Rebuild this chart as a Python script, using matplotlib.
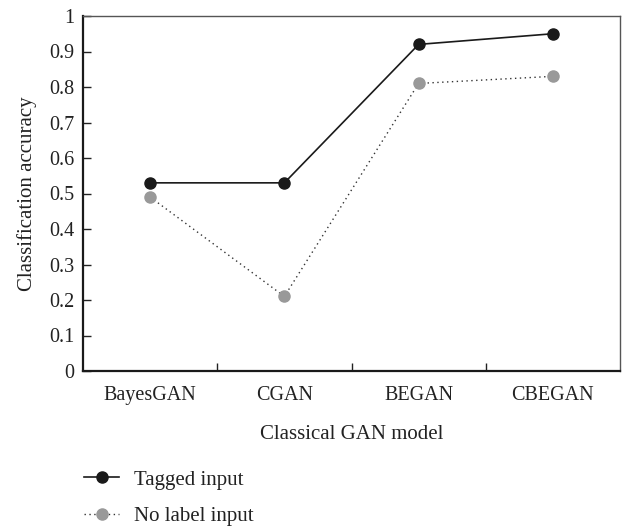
import matplotlib
matplotlib.use("Agg")
import matplotlib.pyplot as plt
from matplotlib.lines import Line2D

plt.rcParams['font.family'] = ['Liberation Serif', 'DejaVu Serif']

categories = ["BayesGAN", "CGAN", "BEGAN", "CBEGAN"]
tagged = [0.53, 0.53, 0.92, 0.95]
no_label = [0.49, 0.21, 0.81, 0.83]
yticks = [0, 0.1, 0.2, 0.3, 0.4, 0.5, 0.6, 0.7, 0.8, 0.9, 1]
ytick_labels = ["0", "0.1", "0.2", "0.3", "0.4", "0.5", "0.6", "0.7", "0.8", "0.9", "1"]

fig = plt.figure(figsize=(6.22, 5.28), dpi=100)
ax = fig.add_axes([83/622, 1-371/528, (620-83)/622, (371-16)/528])

x = list(range(len(categories)))
ax.plot(x, no_label, linestyle=(0, (1, 2.5)), color='#333333', lw=1.0,
        marker='o', markersize=8, markerfacecolor='#999999', markeredgecolor='#999999', zorder=2)
ax.plot(x, tagged, linestyle='-', color='#1a1a1a', lw=1.2,
        marker='o', markersize=8, markerfacecolor='#1a1a1a', markeredgecolor='#1a1a1a', zorder=3)

ax.set_xlim(-0.5, 3.5)
ax.set_ylim(0, 1)
ax.set_yticks(yticks)
ax.set_yticklabels(ytick_labels)
ax.set_xticks(x)
ax.set_xticklabels(categories)
ax.set_xticks([0.5, 1.5, 2.5], minor=True)
ax.tick_params(axis='x', which='major', length=0, pad=11, labelsize=14.5, colors='#222222')
ax.tick_params(axis='x', which='minor', length=6, direction='in', width=1.0, color='#222222')
ax.tick_params(axis='y', which='major', length=6, direction='in', width=1.0, pad=6, labelsize=14.5, colors='#222222')
for s in ['left', 'bottom']:
    ax.spines[s].set_linewidth(1.6)
    ax.spines[s].set_color('#1a1a1a')
for s in ['top', 'right']:
    ax.spines[s].set_linewidth(1.0)
    ax.spines[s].set_color('#555555')

ax.set_xlabel("Classical GAN model", fontsize=15, color='#222222', labelpad=14)
ax.set_ylabel("Classification accuracy", fontsize=15, color='#222222', labelpad=9)

handles = [
    Line2D([], [], linestyle='-', color='#1a1a1a', lw=1.2, marker='o', markersize=8,
           markerfacecolor='#1a1a1a', markeredgecolor='#1a1a1a'),
    Line2D([], [], linestyle=(0, (1, 2.5)), color='#333333', lw=1.0, marker='o', markersize=8,
           markerfacecolor='#999999', markeredgecolor='#999999'),
]
fig.legend(handles, ["Tagged input", "No label input"], loc='upper left',
           bbox_to_anchor=(84/622, 1-470/528), frameon=False, fontsize=15,
           borderpad=0, borderaxespad=0,
           handlelength=1.7, labelspacing=0.8, handletextpad=0.7, labelcolor='#222222')

fig.savefig("out.png", dpi=100)
